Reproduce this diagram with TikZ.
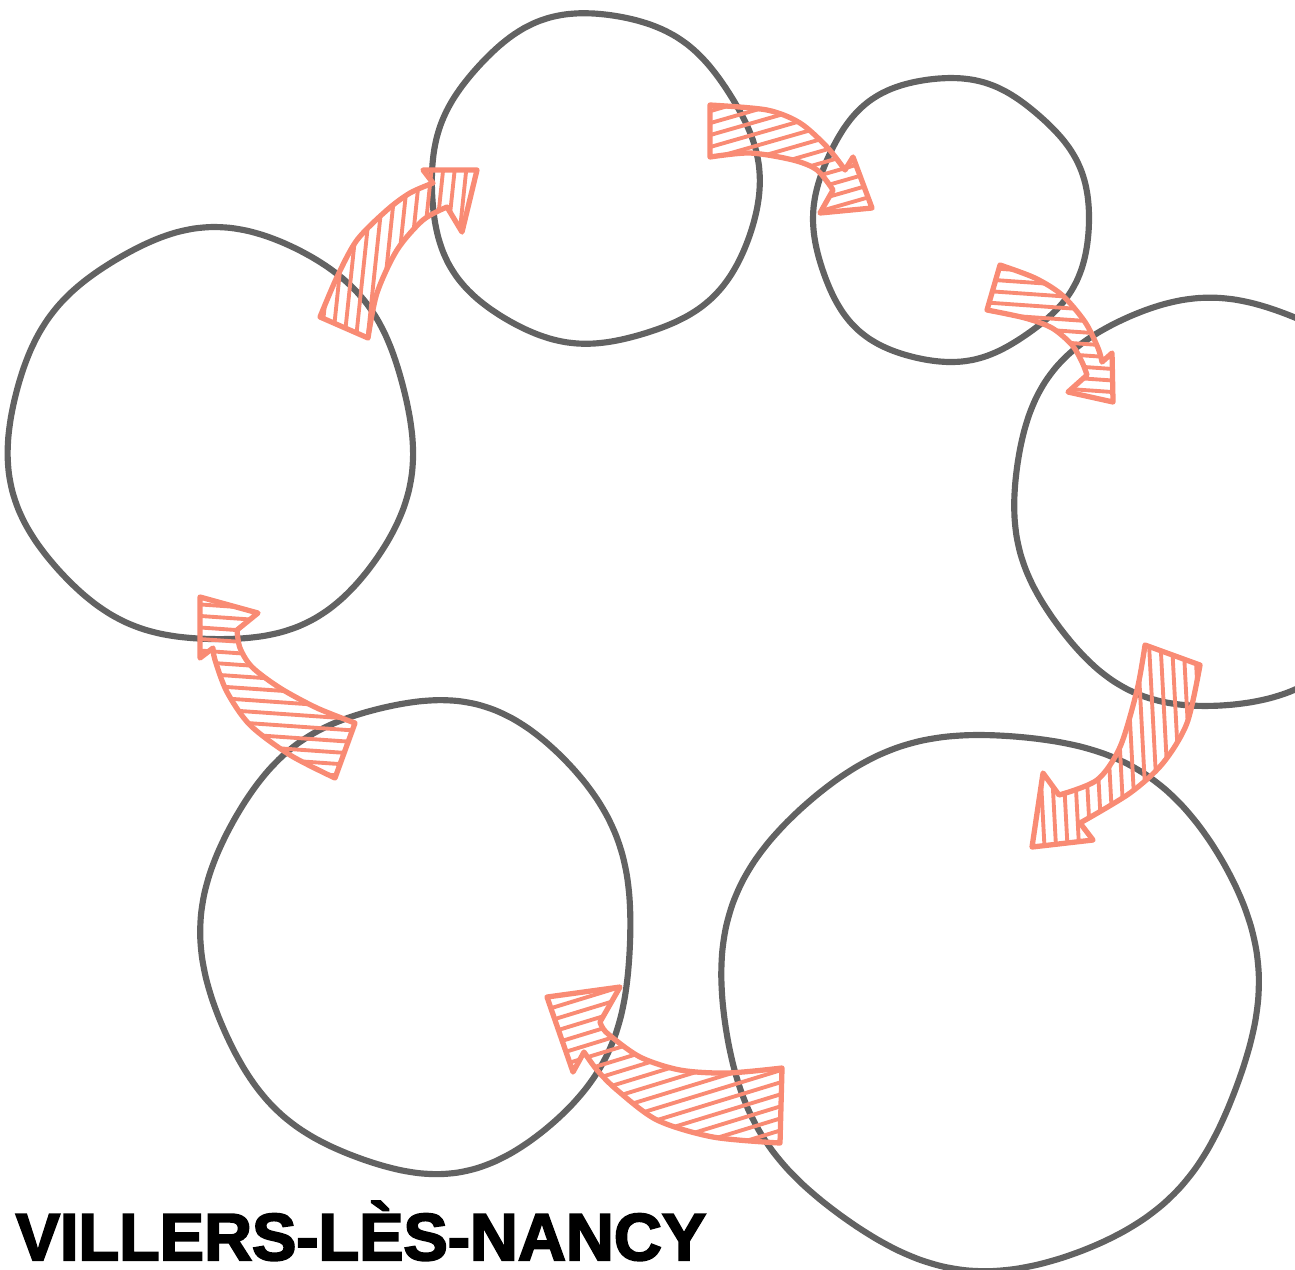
\documentclass[tikz,border=0pt]{standalone}
\usepackage{fontspec}
\newfontfamily\titlefont{Liberation Sans}[BoldFont={Liberation Sans Bold}, BoldFeatures={FakeBold=3}]
\usetikzlibrary{calc}
\definecolor{ringgray}{HTML}{626262}
\definecolor{salmon}{HTML}{F98B74}
\newcommand\hatched[4]{%
\begin{scope}
\clip #1;
\begin{scope}[shift={(#2,#3)}, rotate=#4]
\foreach \k in {-18,...,18} \draw[hatch] (-260,\k*11.5) -- (260,\k*11.5);
\end{scope}
\end{scope}
\draw[shaft] #1;}

\begin{document}
\begin{tikzpicture}[x=0.01cm, y=-0.01cm,
ring/.style={draw=ringgray, line width=1.75pt, line join=round},
shaft/.style={draw=salmon, line width=1.5pt, line join=round},
hatch/.style={draw=salmon, line width=1.1pt, line cap=round}]
\useasboundingbox (0,0) rectangle (1295,1269);
\clip (0,0) rectangle (1295,1269);
\foreach \cx/\cy/\rx/\ry/\ph in {594/180/164/165/20, 950/220/138/142/80, 1216/501/204/204/140,
990/998/268/268/200, 420/936/215/236/260, 212/437/202/206/320}
\draw[ring] plot[domain=0:355, samples=72, smooth cycle, variable=\t]
({\cx+\rx*(1+0.015*sin(3*\t+\ph)+0.008*cos(7*\t+2*\ph))*cos(\t)},
{\cy+\ry*(1+0.015*sin(3*\t+\ph)+0.008*cos(7*\t+2*\ph))*sin(\t)});
\def\arrowA{plot[smooth] coordinates{(320,317) (337,277) (357,240) (387,210) (410,193) (433,183)}
-- (423,170) -- (477,170) -- (462,232)
-- plot[smooth] coordinates{(447,207) (423,220) (397,250) (377,293) (368,338)} -- cycle}
\def\arrowB{plot[smooth] coordinates{(710,105) (767,110) (800,123) (827,147) (845,170)}
-- (853,157) -- (872,208) -- (820,213)
-- plot[smooth] coordinates{(833,190) (817,170) (793,160) (750,153) (710,157)} -- cycle}
\def\arrowC{plot[smooth] coordinates{(1000,265) (1035,278) (1062,295) (1085,322) (1098,348) (1102,362)}
-- (1112,353) -- (1113,402) -- (1068,392)
-- plot[smooth] coordinates{(1087,375) (1082,362) (1072,345) (1052,328) (1025,318) (987,310)} -- cycle}
\def\arrowD{plot[smooth] coordinates{(1145,645) (1137,690) (1120,747) (1097,780) (1059,795)}
-- (1043,773) -- (1032,847) -- (1093,840)
-- plot[smooth] coordinates{(1080,823) (1130,793) (1163,763) (1187,723) (1200,665)} -- cycle}
\def\arrowE{plot[smooth] coordinates{(782,1068) (727,1073) (680,1070) (640,1057) (607,1033) (600,1022)}
-- (620,987) -- (547,997) -- (573,1072)
-- plot[smooth] coordinates{(584,1052) (597,1070) (617,1090) (657,1120) (713,1137) (780,1143)} -- cycle}
\def\arrowF{plot[smooth] coordinates{(355,723) (317,708) (280,688) (252,667) (240,648) (237,630)}
-- (258,613) -- (200,597) -- (200,658)
-- plot[smooth] coordinates{(213,648) (215,660) (227,692) (250,725) (290,755) (335,778)} -- cycle}
\hatched{\arrowA}{400}{250}{84}
\hatched{\arrowB}{790}{160}{16}
\hatched{\arrowC}{1050}{330}{-4}
\hatched{\arrowD}{1120}{750}{93}
\hatched{\arrowE}{670}{1080}{17}
\hatched{\arrowF}{270}{690}{-4}
\node[anchor=base west, inner sep=0] (title) at (15,1260)
{\titlefont\bfseries\fontsize{18.9}{20}\selectfont VILLERS-LÈS-NANCY};
\end{tikzpicture}
\end{document}
